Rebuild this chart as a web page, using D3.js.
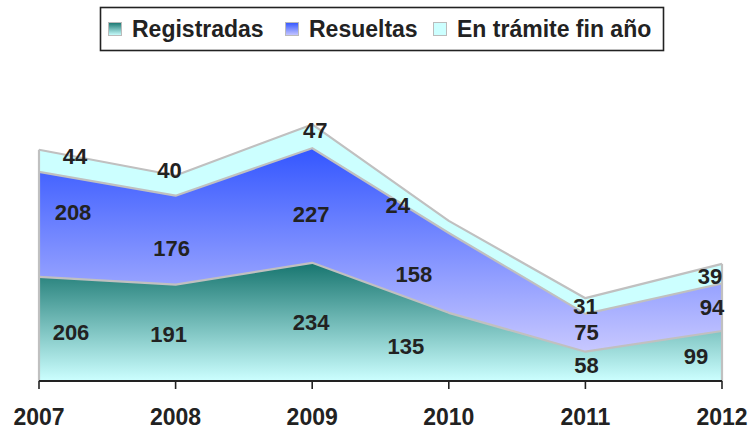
<!DOCTYPE html>
<html>
<head>
<meta charset="utf-8">
<script src="https://cdn.jsdelivr.net/npm/d3@7"></script>
<style>
  html, body { margin: 0; padding: 0; background: #fff; }
  svg { display: block; font-family: "Liberation Sans", Arial, sans-serif; }
</style>
</head>
<body>
<svg id="chart" width="752" height="430"></svg>
<script>
// Expedientes por año
const years = ["2007", "2008", "2009", "2010", "2011", "2012"];
const registradas = [206, 191, 234, 135, 58, 99];
const resueltas = [208, 176, 227, 158, 75, 94];
const enTramite = [44, 40, 47, 24, 31, 39];

const seriesNames = ["Registradas", "Resueltas", "En trámite fin año"];

// Nudges for value labels (pixels, relative to the middle of each band)
const labelDx = [
  [32, -7, -1, -43, 1, -26],
  [34, -4, -1, -35, 1, -10],
  [36, -6, 3, -51, 0, -12]
];
const labelDy = [
  [3, 1, 0, -1, -1, 0],
  [-12, 8, 8, 1, -1, 0],
  [-5, -16, -6, -22, 0, 2]
];

const svg = d3.select("#chart");

const x = d3.scalePoint().domain(years).range([39, 722]);
const y = d3.scaleLinear().domain([0, 600]).range([381, 78]);

const rows = years.map((yr, i) => ({
  year: yr,
  "Registradas": registradas[i],
  "Resueltas": resueltas[i],
  "En trámite fin año": enTramite[i]
}));

const stack = d3.stack().keys(seriesNames);
const layers = stack(rows);

// Gradient fills
const defs = svg.append("defs");
function vGrad(id, c0, c1) {
  const g = defs.append("linearGradient")
    .attr("id", id).attr("x1", 0).attr("y1", 0).attr("x2", 0).attr("y2", 1);
  g.append("stop").attr("offset", "0%").attr("stop-color", c0);
  g.append("stop").attr("offset", "100%").attr("stop-color", c1);
}
vGrad("gReg", "#17756f", "#ccffff");
vGrad("gRes", "#3356ff", "#c8c8ff");
vGrad("gTra", "#ccffff", "#ccffff");
const fills = ["url(#gReg)", "url(#gRes)", "url(#gTra)"];

const area = d3.area()
  .x(d => x(d.data.year))
  .y0(d => y(d[0]))
  .y1(d => y(d[1]));

const line = d3.line()
  .x(d => x(d.data.year))
  .y(d => y(d[1]));

svg.append("g").selectAll("path.area")
  .data(layers)
  .join("path")
  .attr("class", "area")
  .attr("d", area)
  .attr("fill", (d, i) => fills[i])
  .attr("stroke", "none");

// Outlines: top edge of each band plus the side edges
const outline = svg.append("g")
  .attr("fill", "none")
  .attr("stroke", "#c0c0c0")
  .attr("stroke-width", 2.2)
  .attr("stroke-linejoin", "round");

layers.forEach(l => outline.append("path").attr("d", line(l)));

const topLayer = layers[layers.length - 1];
outline.append("line")
  .attr("x1", x(years[0])).attr("x2", x(years[0]))
  .attr("y1", y(0)).attr("y2", y(topLayer[0][1]));
outline.append("line")
  .attr("x1", x(years[years.length - 1])).attr("x2", x(years[years.length - 1]))
  .attr("y1", y(0)).attr("y2", y(topLayer[topLayer.length - 1][1]));

// X axis
const axisG = svg.append("g").attr("transform", `translate(0,${y(0)})`);
axisG.append("line")
  .attr("x1", x(years[0])).attr("x2", x(years[years.length - 1]))
  .attr("y1", 0).attr("y2", 0)
  .attr("stroke", "#222").attr("stroke-width", 2);
axisG.selectAll("line.tick")
  .data(years)
  .join("line")
  .attr("class", "tick")
  .attr("x1", d => x(d)).attr("x2", d => x(d))
  .attr("y1", 0).attr("y2", 8)
  .attr("stroke", "#222").attr("stroke-width", 1.6);
axisG.selectAll("text")
  .data(years)
  .join("text")
  .attr("x", d => x(d))
  .attr("y", 44)
  .attr("text-anchor", "middle")
  .attr("font-size", 23)
  .attr("font-weight", "bold")
  .attr("fill", "#222")
  .text(d => d);

// Value labels
const labels = svg.append("g")
  .attr("font-size", 22)
  .attr("font-weight", "bold")
  .attr("fill", "#222")
  .attr("text-anchor", "middle");

layers.forEach((l, si) => {
  labels.selectAll(null)
    .data(l)
    .join("text")
    .attr("x", (d, i) => x(d.data.year) + labelDx[si][i])
    .attr("y", (d, i) => y((d[0] + d[1]) / 2) + labelDy[si][i] + 8)
    .text(d => d[1] - d[0]);
});

// Legend
const legend = svg.append("g");
legend.append("rect")
  .attr("x", 100.5).attr("y", 7.5)
  .attr("width", 563).attr("height", 43)
  .attr("fill", "#fff")
  .attr("stroke", "#222")
  .attr("stroke-width", 1.6);

const legendX = [108, 285, 433];
seriesNames.forEach((name, i) => {
  const g = legend.append("g").attr("transform", `translate(${legendX[i]},0)`);
  g.append("rect")
    .attr("x", 0.5).attr("y", 22.5)
    .attr("width", 13).attr("height", 13)
    .attr("fill", fills[i])
    .attr("stroke", "#bbb").attr("stroke-width", 1);
  g.append("text")
    .attr("x", 24).attr("y", 37)
    .attr("font-size", 23)
    .attr("font-weight", "bold")
    .attr("fill", "#222")
    .text(name);
});
</script>
</body>
</html>
